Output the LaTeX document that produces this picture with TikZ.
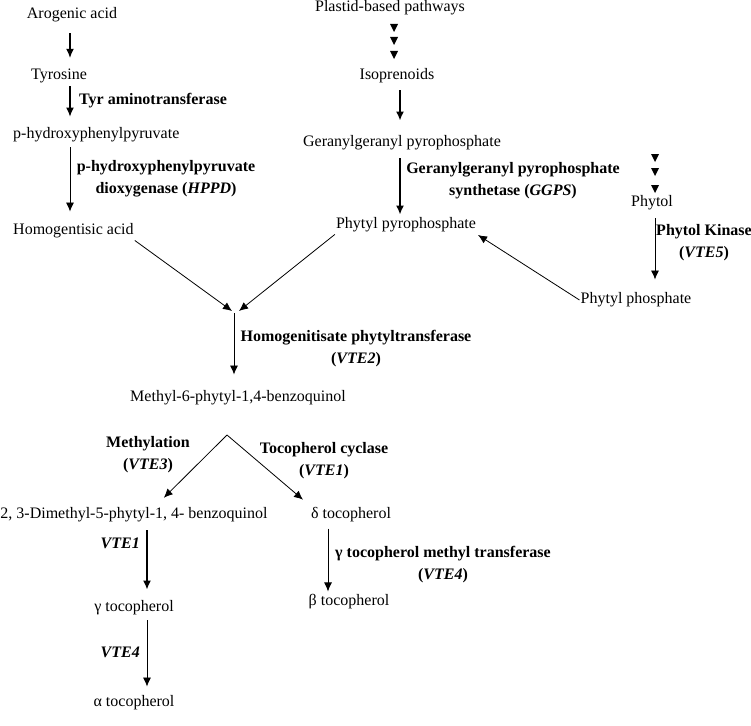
\documentclass[tikz,border=0pt]{standalone}
\usepackage{fontspec}
\setmainfont{Liberation Serif}
\usetikzlibrary{arrows.meta}

\tikzset{
  cmpd/.style={inner xsep=1pt, inner ysep=2pt, font=\fontsize{16}{19}\selectfont},
  enz/.style={inner sep=1pt, align=center, font=\fontsize{16}{22}\selectfont\bfseries},
  rxn/.style={-{Latex[length=9pt,width=8pt]}, line width=0.8pt},
  rxnb/.style={rxn, line width=1.6pt},
  tri/.style={fill=black},
}

\begin{document}
\begin{tikzpicture}[x=1pt,y=-1pt]
                \useasboundingbox (0,0) rectangle (751,725);

                % Nodes
                \node[cmpd] (aro) at (72,15) {Arogenic acid};
                \node[cmpd] (tyr) at (59,76) {Tyrosine};
                \node[cmpd, anchor=west] (php) at (12,135) {p-hydroxyphenylpyruvate};
                \node[cmpd, anchor=west] (hga) at (12,231) {Homogentisic acid};
                \node[cmpd] (pla) at (390,8) {Plastid-based pathways};
                \node[cmpd] (iso) at (397,76) {Isoprenoids};
                \node[cmpd] (ggpp) at (402,143) {Geranylgeranyl pyrophosphate};
                \node[cmpd] (ppp) at (406,225) {Phytyl pyrophosphate};
                \node[cmpd] (phytol) at (652,203) {Phytol};
                \node[cmpd] (pp) at (636,300) {Phytyl phosphate};
                \node[cmpd] (mpbq) at (238,398) {Methyl-6-phytyl-1,4-benzoquinol};
                \node[cmpd] (dmpbq) at (134,515) {2, 3-Dimethyl-5-phytyl-1, 4- benzoquinol};
                \node[cmpd] (dtoc) at (351,515) {δ tocopherol};
                \node[cmpd] (gtoc) at (134,608) {γ tocopherol};
                \node[cmpd] (atoc) at (134,703) {α tocopherol};
                \node[cmpd] (btoc) at (349,602) {β tocopherol};

                % Enzymes
                \node[enz, anchor=west] (tat) at (78,101) {Tyr aminotransferase};
                \node[enz] (hppd) at (166,179) {p-hydroxyphenylpyruvate\\dioxygenase (\textit{HPPD})};
                \node[enz] (ggps) at (513,181) {Geranylgeranyl pyrophosphate\\synthetase (\textit{GGPS})};
                \node[enz] (vte5) at (704,243) {Phytol Kinase\\(\textit{VTE5})};
                \node[enz] (vte2) at (356,349) {Homogenitisate phytyltransferase\\(\textit{VTE2})};
                \node[enz] (vte3) at (148,455) {Methylation\\(\textit{VTE3})};
                \node[enz] (vte1) at (324,461) {Tocopherol cyclase\\(\textit{VTE1})};
                \node[enz, anchor=east] (vte1b) at (141,543) {\textit{VTE1}};
                \node[enz, anchor=east] (vte4) at (141,652) {\textit{VTE4}};
                \node[enz] (vte4b) at (443,565) {γ tocopherol methyl transferase\\(\textit{VTE4})};

                % Columns and branch points
                \coordinate (colA) at (70,0);
                \coordinate (colB) at (400,0);
                \coordinate (colC) at (655,0);
                \coordinate (colD) at (234,0);
                \coordinate (colE) at (147,0);
                \coordinate (colF) at (328,0);
                \coordinate (join) at (235,311);
                \coordinate (apex) at (227,435);

                % Edges
                \draw[rxn, line width=1.1pt, shorten <=9pt, shorten >=9pt] (aro.south -| colA) -- (tyr.north -| colA);
                \draw[rxn, line width=1.1pt, shorten <=1pt, shorten >=9pt] (tyr.south -| colA) -- (php.north -| colA);
                \draw[rxn, shorten <=3pt, shorten >=10pt] (php.south -| colA) -- (hga.north -| colA);
                \foreach \y in {24,37,51}
                    \fill[tri] (390,\y) -- (398,\y) -- (394,\y+8) -- cycle;
                \draw[rxnb, shorten <=5pt, shorten >=13pt] (iso.south -| colB) -- (ggpp.north -| colB);
                \draw[rxnb, shorten <=6pt, shorten >=1pt] (ggpp.south -| colB) -- (ppp.north -| colB);
                \foreach \y in {154,168,185}
                    \fill[tri] (651,\y) -- (659,\y) -- (655,\y+8) -- cycle;
                \draw[rxn, shorten <=6pt, shorten >=11pt] (phytol.south -| colC) -- (pp.north -| colC);
                \draw[rxn, shorten >=1pt] (pp.west) -- (ppp.south east);
                \draw[rxn] (hga.south east) -- ([xshift=-3pt]join);
                \draw[rxn] (ppp.south west) -- ([xshift=4pt]join);
                \draw[rxn, shorten <=2pt, shorten >=14pt] (join -| colD) -- (mpbq.north -| colD);
                \draw[rxn, shorten >=11pt] (apex) -- ([xshift=22pt]dmpbq.north);
                \draw[rxn, shorten >=9pt] (apex) -- (dtoc.north west);
                \draw[rxnb, shorten <=6pt, shorten >=9pt] (dmpbq.south -| colE) -- (gtoc.north -| colE);
                \draw[rxn, shorten <=3pt, shorten >=7pt] (gtoc.south -| colE) -- (atoc.north -| colE);
                \draw[rxn, shorten <=4pt, shorten >=1pt] (dtoc.south -| colF) -- (btoc.north -| colF);
            \end{tikzpicture}
\end{document}
